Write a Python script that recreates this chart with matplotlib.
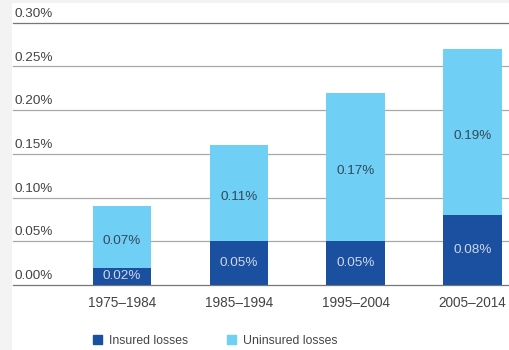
import matplotlib.pyplot as plt
from matplotlib.patches import Patch, Rectangle

periods = ["1975–1984", "1985–1994", "1995–2004", "2005–2014"]
insured = [0.02, 0.05, 0.05, 0.08]
uninsured = [0.07, 0.11, 0.17, 0.19]
yticks = [0.00, 0.05, 0.10, 0.15, 0.20, 0.25, 0.30]

dark_blue = "#1b4f9f"
light_blue = "#6fcff5"
text_col = "#444444"

plt.rcParams['font.family'] = ['Liberation Sans', 'DejaVu Sans']

fig = plt.figure(figsize=(5.09, 3.5), dpi=100, facecolor="#f3f3f3")
fig.patches.append(Rectangle((12 / 509, 0), 1, 1 - 3 / 350, transform=fig.transFigure,
                             facecolor="white", edgecolor="none", zorder=-5))

ax = fig.add_axes([13 / 509, 65 / 350, 1 - 13 / 509, (285 - 22.6) / 350])
ax.set_facecolor("none")
x = list(range(len(periods)))

ax.bar(x, insured, width=0.5, color=dark_blue, zorder=3)
ax.bar(x, uninsured, width=0.5, bottom=insured, color=light_blue, zorder=3)

for i in x:
    ax.annotate(f"{insured[i]:.2f}%", (i, insured[i] / 2), ha="center", va="center",
                fontsize=9.7, color="#cdd8ea", zorder=4)
    ax.annotate(f"{uninsured[i]:.2f}%", (i, insured[i] + uninsured[i] / 2),
                xytext=(0, -3), textcoords="offset points", ha="center", va="center",
                fontsize=9.7, color="#34495c", zorder=4)

ax.set_xlim(-0.933, 3.313)
ax.set_ylim(0, 0.30)

for t in yticks:
    col = "#777777" if t in (0.0, 0.30) else "#a8a8a8"
    ax.axhline(t, color=col, linewidth=0.9, zorder=2, clip_on=False)
    ax.annotate(f"{t:.2f}%", (0, t), xycoords=("axes fraction", "data"),
                xytext=(1, 2), textcoords="offset points", ha="left", va="bottom",
                fontsize=9.7, color=text_col)

ax.set_xticks(x)
ax.set_xticklabels(periods, fontsize=9.8, color=text_col)
ax.tick_params(axis="x", length=0, pad=8)
ax.set_yticks([])
for s in ax.spines.values():
    s.set_visible(False)

handles = [Patch(color=dark_blue, label="Insured losses"),
           Patch(color=light_blue, label="Uninsured losses")]
fig.legend(handles=handles, loc="center left", bbox_to_anchor=(93 / 509, 9 / 350),
           ncol=2, frameon=False, fontsize=8.8, handlelength=0.74, handleheight=0.74,
           handletextpad=0.57, columnspacing=3.2, borderpad=0, borderaxespad=0,
           labelcolor=text_col)

fig.savefig("out.png", dpi=100, facecolor=fig.get_facecolor())
